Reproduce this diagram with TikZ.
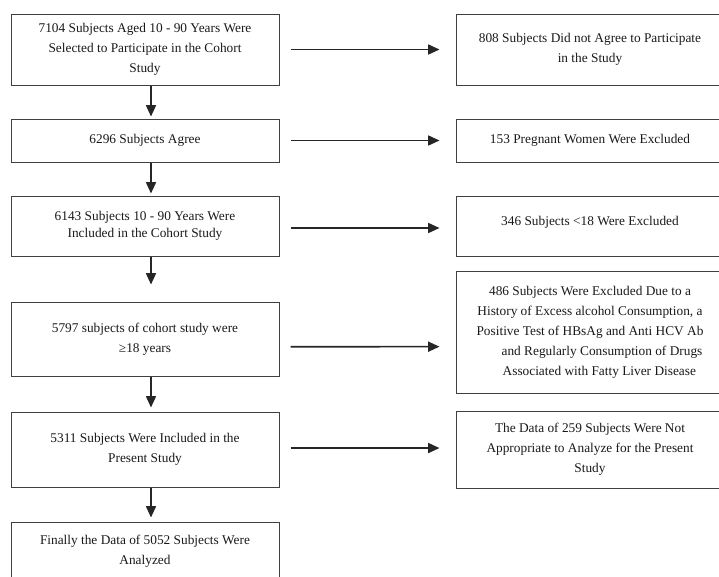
\documentclass[tikz,border=0pt]{standalone}
\usepackage{fontspec}
\setmainfont{Liberation Serif}
\usepackage{tikz}
\usetikzlibrary{arrows.meta}

\begin{document}
\begin{tikzpicture}[x=0.75pt, y=-0.75pt,
        box/.style={rectangle, draw=black!75, line width=0.75pt, text=black!90,
            font=\fontsize{10}{15}\selectfont, align=center, inner sep=0pt,
            minimum width=201pt},
        arr/.style={draw=black!85, line width=1.2pt, -{Triangle[length=8.5pt, width=7.5pt]}}]
        \useasboundingbox (0, 0) rectangle (719, 576);
        \clip (0, 0) rectangle (719, 576);

        % Nodes
        \node[box, minimum height=53.25pt] (1) at (145, 49.5) {7104 Subjects Aged 10 - 90 Years Were\\ Selected to Participate in the Cohort\\ Study};
        \node[box, minimum height=32.25pt] (2) at (145, 140.5) {6296 Subjects Agree};
        \node[box, minimum height=45pt] (3) at (145, 226) {6143 Subjects 10 - 90 Years Were\\[-2pt] Included in the Cohort Study};
        \node[box, minimum height=55.5pt] (4) at (145, 339) {5797 subjects of cohort study were\\ ≥18 years};
        \node[box, minimum height=56.25pt] (5) at (145, 449.5) {5311 Subjects Were Included in the\\ Present Study};
        \node[box, minimum height=43.5pt] (6) at (145, 551) {Finally the Data of 5052 Subjects Were\\ Analyzed};

        \node[box, minimum height=53.25pt] (7) at (590, 49.5) {808 Subjects Did not Agree to Participate\\ in the Study};
        \node[box, minimum height=32.25pt] (8) at (590, 140.5) {153 Pregnant Women Were Excluded};
        \node[box, minimum height=45pt] (9) at (590, 226) {\raisebox{7pt}{346 Subjects <18 Were Excluded}};
        \node[box, minimum height=91.5pt] (10) at (590, 332) {486 Subjects Were Excluded Due to a\\ History of Excess alcohol Consumption, a\\ Positive Test of HBsAg and Anti HCV Ab\hspace*{34pt}\\ \hspace*{18pt}and Regularly Consumption of Drugs\\ \hspace*{14pt}Associated with Fatty Liver Disease};
        \node[box, minimum height=57.75pt] (11) at (590, 449.5) {The Data of 259 Subjects Were Not\\ Appropriate to Analyze for the Present\\ Study};

        % Edges
        \draw[arr] ([xshift=4.5pt]1.south) -- ([xshift=4.5pt, yshift=1.5pt]2.north);
        \draw[arr] ([xshift=4.5pt]2.south) -- ([xshift=4.5pt, yshift=1.5pt]3.north);
        \draw[arr] ([xshift=4.5pt]3.south) -- ([xshift=4.5pt, yshift=12.75pt]4.north);
        \draw[arr] ([xshift=4.5pt]4.south) -- ([xshift=4.5pt, yshift=3pt]5.north);
        \draw[arr] ([xshift=4.5pt]5.south) -- ([xshift=4.5pt, yshift=3pt]6.north);

        \draw[arr] ([xshift=8.25pt]1.east) -- ([xshift=-12pt]7.west);
        \draw[arr] ([xshift=8.25pt]2.east) -- ([xshift=-12pt]8.west);
        \draw[arr] ([xshift=8.25pt, yshift=-1.5pt]3.east) -- ([xshift=-12pt, yshift=-1.5pt]9.west);
        \draw[arr] ([xshift=8.25pt, yshift=-5.8pt]4.east) -- ([xshift=-12pt, yshift=-11pt]10.west);
        \draw[arr] ([xshift=8.25pt, yshift=1.1pt]5.east) -- ([xshift=-12pt, yshift=1.1pt]11.west);
    \end{tikzpicture}
\end{document}
